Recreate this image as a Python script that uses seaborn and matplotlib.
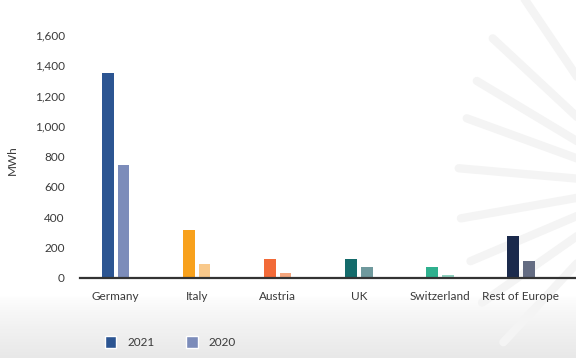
import numpy as np
import pandas as pd
import matplotlib
matplotlib.use("Agg")
import matplotlib.pyplot as plt
import seaborn as sns
from matplotlib.patches import Patch

# Energy volumes by market, two years
countries = ["Germany", "Italy", "Austria", "UK", "Switzerland", "Rest of Europe"]
mwh_2021 = [1350, 318, 125, 123, 75, 277]
mwh_2020 = [745, 90, 33, 75, 20, 114]
years = ["2021", "2020"]

# Per-market colour pairs (current year, previous year)
colors_2021 = ["#2c5592", "#f8a11c", "#f26a38", "#146b6b", "#2fb08e", "#1b2a4c"]
colors_2020 = ["#7c8cba", "#f9c98b", "#f5a67e", "#6f999d", "#8ed1bf", "#646c82"]

df = pd.DataFrame({
    "country": countries * 2,
    "MWh": mwh_2021 + mwh_2020,
    "year": [years[0]] * len(countries) + [years[1]] * len(countries),
})

sns.set_theme(style="white")
plt.rcParams["font.family"] = ["Lato", "DejaVu Sans"]

W, H = 576, 358
fig = plt.figure(figsize=(W / 100, H / 100), dpi=100)

# Background: soft gradient at the bottom and faint rays on the right
bg = fig.add_axes([0, 0, 1, 1], zorder=-10)
bg.set_xlim(0, W)
bg.set_ylim(H, 0)
bg.axis("off")
grad = np.ones((H, 1))
rows = np.arange(H)
start = 295
grad[rows >= start, 0] = 1 - 0.09 * ((rows[rows >= start] - start) / (H - start)) ** 0.8
bg.imshow(np.dstack([grad, grad, grad]), extent=(0, W, H, 0), aspect="auto", vmin=0, vmax=1)
cx, cy = 650, 185
for ang, r0 in [(-124, 225), (-137, 215), (-149, 202), (-160, 195), (-175, 192),
                (170, 192), (157, 195), (145, 205), (133, 215)]:
    a = np.deg2rad(ang)
    x0, y0 = cx + r0 * np.cos(a), cy + r0 * np.sin(a)
    x1, y1 = cx + 70 * np.cos(a), cy + 70 * np.sin(a)
    bg.plot([x0, x1], [y0, y1], color="#f4f4f4", lw=6, solid_capstyle="round")

ax = fig.add_axes([80 / W, 1 - 278 / H, (575 - 80) / W, (278 - 35) / H])
ax.set_facecolor("none")

sns.barplot(data=df, x="country", y="MWh", hue="year", hue_order=years,
            order=countries, width=0.39, gap=0.25, ax=ax, legend=False)

for cont, cols in zip(ax.containers, [colors_2021, colors_2020]):
    for bar, c in zip(cont, cols):
        bar.set_facecolor(c)
        bar.set_edgecolor("none")

ax.set_ylim(0, 1600)
ax.set_xlim(-0.44, 5.67)
ax.set_yticks(np.arange(0, 1601, 200))
ax.set_yticklabels([f"{v:,}" for v in range(0, 1601, 200)])
for s in ["top", "right", "left"]:
    ax.spines[s].set_visible(False)
ax.spines["bottom"].set_color("#333333")
ax.spines["bottom"].set_linewidth(1.6)
ax.tick_params(axis="both", length=0, labelsize=8.5, colors="#3a3a3a")
ax.tick_params(axis="y", pad=11)
ax.tick_params(axis="x", pad=9)
ax.set_xlabel("")
ax.set_ylabel("")
fig.text(12 / W, 1 - 160 / H, "MWh", rotation=90, ha="center", va="center",
         fontsize=8.5, color="#3a3a3a")

# Legend in Germany's colours
handles = [Patch(facecolor=colors_2021[0]), Patch(facecolor=colors_2020[0])]
fig.legend(handles, years, loc="center left", bbox_to_anchor=(94 / W, 1 - 342 / H),
           ncol=2, frameon=False, fontsize=8.5, handlelength=1.0, handleheight=1.3,
           columnspacing=2.7, handletextpad=0.9, labelcolor="#3a3a3a")

fig.savefig("out.png", dpi=100)
